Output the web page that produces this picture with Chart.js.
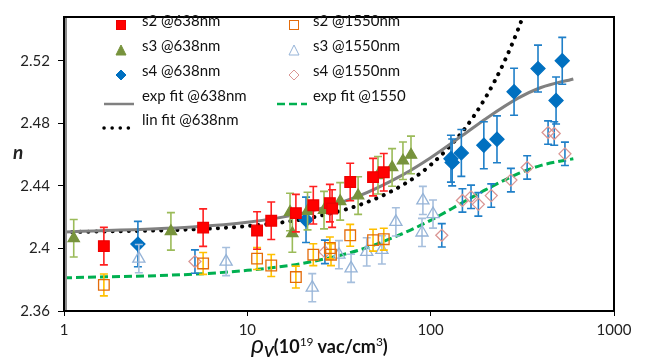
<!DOCTYPE html>
<html>
<head>
<meta charset="utf-8">
<script src="https://cdn.jsdelivr.net/npm/chart.js@4.4.1/dist/chart.umd.min.js"></script>
<style>
    body { margin: 0; background: #fff; }
    #wrap { position: relative; width: 656px; height: 360px; font-family: Lato, 'Open Sans', sans-serif; color: #222; }
    canvas { position: absolute; left: 0; top: 0; }
    .leg { position: absolute; font-size: 15px; line-height: 15px; white-space: nowrap; color: #111; }
    .sym { position: absolute; }
    #ylab { position: absolute; left: 13px; top: 140px; font-size: 19px; font-weight: bold; font-style: italic; }
    #xlab { position: absolute; left: 251px; top: 328px; font-size: 18px; font-weight: bold; white-space: nowrap; color: #111; }
    #xlab .rho { font-size: 25px; font-style: italic; font-weight: normal; }
    #xlab sub { font-size: 15px; font-style: italic; vertical-align: -4px; }
    #xlab sup { font-size: 12px; vertical-align: 7px; font-weight: normal; }
</style>
</head>
<body>
<div id="wrap">
    <canvas id="grafico" width="656" height="360"></canvas>
    <div id="ylab">n</div>
    <div id="xlab"><span class="rho">ρ</span><sub>V</sub>(10<sup>19</sup> vac/cm<sup>3</sup>)</div>
    <div id="legenda"></div>
</div>
<script>
// eixos
const xTicks = [1, 10, 100, 1000];
const yTicks = [2.36, 2.40, 2.44, 2.48, 2.52];

// s2 @638nm
const s2_638_x = [1.65, 5.74, 11.3, 13.5, 18.4, 22.9, 28.2, 29.0, 36.4, 48.5, 55.5];
const s2_638_y = [2.4015, 2.4133, 2.4115, 2.4177, 2.4226, 2.4276, 2.4290, 2.4255, 2.4425, 2.4456, 2.4487];
const s2_638_e = [0.012, 0.012, 0.012, 0.012, 0.012, 0.012, 0.012, 0.012, 0.012, 0.012, 0.012];

// s3 @638nm
const s3_638_x = [1.13, 3.83, 17.1, 17.6, 21.3, 26.2, 32.1, 40.2, 51.6, 61.6, 70.6, 78.1];
const s3_638_y = [2.4065, 2.4109, 2.4233, 2.4096, 2.4239, 2.4245, 2.4301, 2.4338, 2.4468, 2.4518, 2.4561, 2.4598];
const s3_638_e = [0.012, 0.012, 0.012, 0.012, 0.012, 0.012, 0.012, 0.012, 0.012, 0.012, 0.012, 0.012];

// s4 @638nm
const s4_638_x = [2.53, 20.9, 129, 131, 147, 195, 230, 285, 385, 483, 522];
const s4_638_y = [2.4028, 2.4183, 2.4574, 2.4550, 2.4611, 2.4660, 2.4698, 2.5002, 2.5150, 2.4946, 2.5200];
const s4_638_e = [0.0145, 0.0145, 0.015, 0.015, 0.015, 0.015, 0.015, 0.015, 0.015, 0.015, 0.015];

// s2 @1550nm
const s2_1550_x = [1.65, 5.74, 11.3, 13.5, 18.4, 22.9, 28.2, 28.6, 36.4, 48.5, 55.5];
const s2_1550_y = [2.3767, 2.3904, 2.3935, 2.3891, 2.3817, 2.3960, 2.4003, 2.3960, 2.4084, 2.4053, 2.4059];
const s2_1550_e = [0.007, 0.007, 0.007, 0.007, 0.007, 0.007, 0.007, 0.007, 0.007, 0.007, 0.007];

// s3 @1550nm
const s3_1550_x = [2.56, 7.66, 22.6, 31.6, 36.8, 44.8, 54.2, 64.6, 89.7, 90.7, 103];
const s3_1550_y = [2.3935, 2.3916, 2.3749, 2.3960, 2.3873, 2.3978, 2.3991, 2.4170, 2.4102, 2.4307, 2.4220];
const s3_1550_e = [0.009, 0.009, 0.009, 0.009, 0.009, 0.009, 0.009, 0.009, 0.009, 0.009, 0.009];

// s4 @1550nm
const s4_1550_x = [5.18, 26.5, 115, 149, 166, 182, 214, 274, 336, 437, 472, 540];
const s4_1550_y = [2.3916, 2.3978, 2.4084, 2.4307, 2.4330, 2.4282, 2.4338, 2.4437, 2.4518, 2.4741, 2.4735, 2.4605];
const s4_1550_e = [0.0075, 0.0075, 0.0075, 0.0075, 0.0075, 0.0075, 0.0075, 0.0075, 0.0075, 0.0075, 0.0075, 0.0075];

// curvas de ajuste
const exp638_x = [1, 5, 10, 20, 40, 70, 100, 150, 200, 300, 400, 600];
const exp638_y = [2.4105, 2.4137, 2.4167, 2.4226, 2.4333, 2.4469, 2.4580, 2.4725, 2.4830, 2.4961, 2.5029, 2.5084];
const exp1550_x = [1, 5, 10, 20, 40, 70, 100, 150, 200, 300, 400, 600];
const exp1550_y = [2.3812, 2.3835, 2.3860, 2.3905, 2.3987, 2.4094, 2.4180, 2.4295, 2.4376, 2.4478, 2.4531, 2.4574];
const lin638_x = [1, 5, 10, 20, 40, 70, 100, 150, 200, 250, 300, 340];
const lin638_y = [2.4104, 2.4122, 2.4143, 2.4187, 2.4274, 2.4404, 2.4534, 2.4751, 2.4968, 2.5185, 2.5402, 2.5576];

const pts = (xs, ys) => xs.map((x, i) => ({ x: x, y: ys[i] }));

const barrasErro = {
    id: 'barrasErro',
    beforeDatasetDraw(chart, args) {
        const ds = chart.data.datasets[args.index];
        if (!ds.err) return;
        const ctx = chart.ctx, sx = chart.scales.x, sy = chart.scales.y, a = chart.chartArea;
        ctx.save();
        ctx.beginPath();
        ctx.rect(a.left, a.top, a.right - a.left, a.bottom - a.top);
        ctx.clip();
        ctx.strokeStyle = ds.errColor;
        ctx.lineWidth = 1.6;
        ds.data.forEach((p, i) => {
            const px = sx.getPixelForValue(p.x);
            const t = sy.getPixelForValue(p.y + ds.err[i]);
            const b = sy.getPixelForValue(p.y - ds.err[i]);
            ctx.beginPath();
            ctx.moveTo(px, t); ctx.lineTo(px, b);
            ctx.moveTo(px - 4, t); ctx.lineTo(px + 4, t);
            ctx.moveTo(px - 4, b); ctx.lineTo(px + 4, b);
            ctx.stroke();
        });
        ctx.restore();
    }
};

const moldura = {
    id: 'moldura',
    afterDraw(chart) {
        const ctx = chart.ctx, a = chart.chartArea;
        ctx.save();
        ctx.strokeStyle = '#000';
        ctx.lineWidth = 2;
        ctx.strokeRect(a.left, a.top, a.right - a.left, a.bottom - a.top);
        ctx.strokeStyle = '#8c8c8c';
        ctx.lineWidth = 2;
        ctx.beginPath();
        ctx.moveTo(a.left + 2, a.top + 1); ctx.lineTo(a.left + 2, a.bottom - 1);
        ctx.stroke();
        ctx.restore();
    }
};

const marcador = (label, x, y, e, style, r, fill, border, errColor) => ({
    label: label,
    data: pts(x, y),
    err: e,
    errColor: errColor,
    pointStyle: style,
    pointRadius: r,
    pointHoverRadius: r,
    backgroundColor: fill,
    borderColor: border,
    pointBorderWidth: 1.3,
    showLine: false
});

const linha = (label, x, y, cor, dash, largura, cap) => ({
    label: label,
    data: pts(x, y),
    showLine: true,
    borderColor: cor,
    borderWidth: largura,
    borderDash: dash,
    borderCapStyle: cap,
    pointRadius: 0,
    cubicInterpolationMode: 'monotone',
    fill: false
});

const datasets = [
    marcador('s2 @638nm', s2_638_x, s2_638_y, s2_638_e, 'rect', 7.5, '#ff0000', '#ee0000', '#ff2020'),
    marcador('s2 @1550nm', s2_1550_x, s2_1550_y, s2_1550_e, 'rect', 7.5, 'rgba(0,0,0,0)', '#e46c0a', '#ffc000'),
    marcador('s3 @638nm', s3_638_x, s3_638_y, s3_638_e, 'triangle', 6.5, '#77933c', '#77933c', '#9bbb59'),
    marcador('s3 @1550nm', s3_1550_x, s3_1550_y, s3_1550_e, 'triangle', 7, 'rgba(0,0,0,0)', '#95b3d7', '#a6bfdd'),
    marcador('s4 @638nm', s4_638_x, s4_638_y, s4_638_e, 'rectRot', 7, '#0070c0', '#0070c0', '#1f7fc8'),
    marcador('s4 @1550nm', s4_1550_x, s4_1550_y, s4_1550_e, 'rectRot', 6, 'rgba(0,0,0,0)', '#da9694', '#1f7fc8'),
    linha('exp fit @638nm', exp638_x, exp638_y, '#808080', [], 3, 'butt'),
    linha('exp fit @1550', exp1550_x, exp1550_y, '#00b050', [8, 4], 3, 'butt'),
    linha('lin fit @638nm', lin638_x, lin638_y, '#000000', [0.1, 8], 4, 'round')
];

new Chart(document.getElementById('grafico').getContext('2d'), {
    type: 'scatter',
    data: { datasets: datasets },
    options: {
        responsive: false,
        animation: false,
        layout: { padding: { left: 0, right: 42, top: 8, bottom: 0 } },
        plugins: { legend: { display: false }, tooltip: { enabled: false } },
        scales: {
            x: {
                type: 'logarithmic',
                min: 1,
                max: 1000,
                afterBuildTicks: (s) => { s.ticks = xTicks.map(v => ({ value: v })); },
                afterFit: (s) => { s.height = 49; },
                border: { display: false },
                grid: { drawOnChartArea: false, tickLength: 5, color: '#000', lineWidth: 1 },
                ticks: {
                    autoSkip: false, maxRotation: 0, padding: 5, color: '#222',
                    font: { family: 'Lato', size: 15 },
                    callback: (v) => String(v)
                }
            },
            y: {
                type: 'linear',
                min: 2.36,
                max: 2.548,
                afterBuildTicks: (s) => { s.ticks = yTicks.map(v => ({ value: v })); },
                afterFit: (s) => { s.width = 64; },
                border: { display: false },
                grid: { drawOnChartArea: false, tickLength: 6, color: '#000', lineWidth: 1 },
                ticks: {
                    padding: 8, color: '#222',
                    font: { family: 'Lato', size: 15 },
                    callback: (v) => String(+v.toFixed(2))
                }
            }
        }
    },
    plugins: [barrasErro, moldura]
});

// legenda montada à mão, em duas colunas dentro do gráfico
const legenda = document.getElementById('legenda');
const itens = [
    { i: 0, col: 0, row: 0 }, { i: 1, col: 1, row: 0 },
    { i: 2, col: 0, row: 1 }, { i: 3, col: 1, row: 1 },
    { i: 4, col: 0, row: 2 }, { i: 5, col: 1, row: 2 },
    { i: 6, col: 0, row: 3 }, { i: 7, col: 1, row: 3 },
    { i: 8, col: 0, row: 4 }
];
const linhasY = [21, 46, 71, 96, 120];
const colSym = [121, 294];
const colTxt = [142, 313];

function simbolo(ds) {
    const f = ds.backgroundColor, b = ds.borderColor;
    if (ds.showLine) {
        const dash = ds.borderDash.length ? `stroke-dasharray="${ds.borderDash.join(',')}"` : '';
        return `<svg width="34" height="8"><line x1="2" y1="4" x2="32" y2="4" stroke="${b}" stroke-width="${ds.borderWidth - 0.5}" stroke-linecap="${ds.borderCapStyle}" ${dash}/></svg>`;
    }
    if (ds.pointStyle === 'rect') return `<svg width="12" height="12"><rect x="1.5" y="1.5" width="9" height="9" fill="${f}" stroke="${b}" stroke-width="1"/></svg>`;
    if (ds.pointStyle === 'triangle') return `<svg width="12" height="12"><polygon points="6,1 11,11 1,11" fill="${f}" stroke="${b}" stroke-width="1"/></svg>`;
    return `<svg width="12" height="12"><polygon points="6,1 11,6 6,11 1,6" fill="${f}" stroke="${b}" stroke-width="1"/></svg>`;
}

itens.forEach(it => {
    const ds = datasets[it.i];
    const y = linhasY[it.row];
    const s = document.createElement('div');
    s.className = 'sym';
    s.innerHTML = simbolo(ds);
    if (ds.showLine) {
        s.style.left = (colSym[it.col] - 19) + 'px';
        s.style.top = (y - 4) + 'px';
    } else {
        s.style.left = (colSym[it.col] - 6) + 'px';
        s.style.top = (y - 6) + 'px';
    }
    legenda.appendChild(s);
    const t = document.createElement('div');
    t.className = 'leg';
    t.textContent = ds.label;
    t.style.left = colTxt[it.col] + 'px';
    t.style.top = (y - 8) + 'px';
    legenda.appendChild(t);
});
</script>
</body>
</html>
